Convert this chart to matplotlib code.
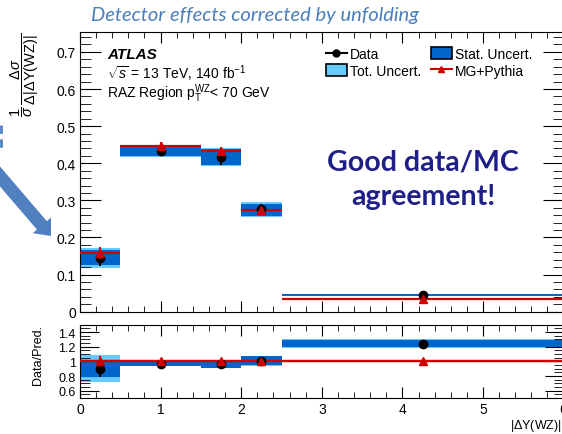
import numpy as np
import matplotlib
matplotlib.use("Agg")
import matplotlib.pyplot as plt
from matplotlib.patches import Patch, Polygon
from matplotlib.lines import Line2D
from matplotlib.ticker import MultipleLocator

plt.rcParams['font.family'] = ['Liberation Sans', 'DejaVu Sans']
plt.rcParams['mathtext.fontset'] = 'custom'
plt.rcParams['mathtext.rm'] = 'Liberation Sans'
plt.rcParams['mathtext.it'] = 'Liberation Sans:italic'
plt.rcParams['mathtext.bf'] = 'Liberation Sans:bold'

# bins of |dY(WZ)|
edges = np.array([0, 0.5, 1.5, 2.0, 2.5, 6.0])
centers = np.array([0.25, 1.0, 1.75, 2.25, 4.25])

# normalised cross section
data = [0.145, 0.432, 0.416, 0.276, 0.0445]
data_err = [0.022, 0.012, 0.02, 0.015, 0.003]
stat_lo = [0.127, 0.420, 0.395, 0.257, 0.0425]
stat_hi = [0.167, 0.447, 0.438, 0.291, 0.0465]
tot_lo = [0.118, 0.417, 0.392, 0.254, 0.0415]
tot_hi = [0.171, 0.450, 0.442, 0.295, 0.0475]
mc = [0.158, 0.446, 0.432, 0.273, 0.035]
mc_err = [0.015, 0.01, 0.012, 0.008, 0.002]

# ratio panel
ratio = [0.90, 0.97, 0.965, 1.01, 1.24]
ratio_err = [0.12, 0.02, 0.04, 0.03, 0.01]
rstat_lo = [0.79, 0.94, 0.91, 0.947, 1.19]
rstat_hi = [1.01, 1.00, 1.013, 1.07, 1.29]
rtot_lo = [0.725, 0.935, 0.905, 0.94, 1.18]
rtot_hi = [1.09, 1.005, 1.02, 1.075, 1.30]
rmc = [1.0, 1.0, 1.0, 1.0, 1.0]
rmc_err = [0.07, 0.025, 0.03, 0.03, 0.005]

c_stat = '#0066cc'
c_tot = '#66ccff'
c_red = '#d00000'

W, H = 562, 435
fig = plt.figure(figsize=(W / 100, H / 100), dpi=100)

def box(l, r, t, b):
    return [l / W, 1 - b / H, (r - l) / W, (b - t) / H]

ax = fig.add_axes(box(80, 563.6, 32.5, 312.7))
axr = fig.add_axes(box(80, 563.6, 325.7, 399))

widths = np.diff(edges)

def draw(a, lo_t, hi_t, lo_s, hi_s, mid, err, mcv, mce):
    a.bar(edges[:-1], np.array(hi_t) - np.array(lo_t), bottom=lo_t, width=widths,
          align='edge', color=c_tot, linewidth=0, zorder=1)
    a.bar(edges[:-1], np.array(hi_s) - np.array(lo_s), bottom=lo_s, width=widths,
          align='edge', color=c_stat, linewidth=0, zorder=2)
    a.hlines(mcv, edges[:-1], edges[1:], color=c_red, lw=1.6, zorder=3)
    a.errorbar(centers, mid, yerr=err, fmt='o', color='black', ms=6,
               elinewidth=1.5, capsize=0, zorder=4)
    a.errorbar(centers, mcv, yerr=mce, fmt='^', color=c_red, ms=6,
               elinewidth=1.5, capsize=0, zorder=5)

draw(ax, tot_lo, tot_hi, stat_lo, stat_hi, data, data_err, mc, mc_err)
draw(axr, rtot_lo, rtot_hi, rstat_lo, rstat_hi, ratio, ratio_err, rmc, rmc_err)
axr.axhline(1.0, color=c_red, lw=1.6, zorder=3)

ax.set_xlim(0, 6)
ax.set_ylim(0, 0.755)
axr.set_xlim(0, 6)
axr.set_ylim(0.5, 1.5)

for a in (ax, axr):
    a.tick_params(which='both', direction='in', top=True, right=True,
                  labelsize=10, pad=3)
    a.xaxis.set_major_locator(MultipleLocator(1))
    a.xaxis.set_minor_locator(MultipleLocator(0.2))
    for s in a.spines.values():
        s.set_linewidth(0.8)

ax.yaxis.set_major_locator(MultipleLocator(0.1))
ax.yaxis.set_minor_locator(MultipleLocator(0.02))
ax.tick_params(axis='y', which='major', length=15)
ax.tick_params(axis='y', which='minor', length=8)
ax.tick_params(axis='x', which='major', length=8)
ax.tick_params(axis='x', which='minor', length=4)
ax.set_xticklabels([])
ax.set_yticks([0, 0.1, 0.2, 0.3, 0.4, 0.5, 0.6, 0.7])
ax.set_yticklabels(['0', '0.1', '0.2', '0.3', '0.4', '0.5', '0.6', '0.7'])

axr.yaxis.set_major_locator(MultipleLocator(0.2))
axr.yaxis.set_minor_locator(MultipleLocator(0.05))
axr.set_yticks([0.6, 0.8, 1.0, 1.2, 1.4])
axr.set_yticklabels(['0.6', '0.8', '1', '1.2', '1.4'], fontsize=9)
axr.tick_params(axis='y', which='major', length=14)
axr.tick_params(axis='y', which='minor', length=7)
axr.tick_params(axis='x', which='major', length=8, labelsize=10)
axr.tick_params(axis='x', which='minor', length=4)

# axis titles
fig.text(25 / W, 1 - 33 / H,
         r'$\dfrac{1}{\sigma}\,\dfrac{\Delta\sigma}{\Delta|\Delta \mathrm{Y(WZ)}|}$',
         rotation=90, ha='center', va='top', fontsize=10.5)
fig.text(38 / W, 1 - 355 / H, 'Data/Pred.', rotation=90, ha='center',
         va='center', fontsize=9)
fig.text(562 / W, 1 - 426 / H, r'|$\Delta$Y(WZ)|', ha='right', va='center',
         fontsize=9)

# ATLAS labels
ax.text(0.056, 0.918, 'ATLAS', transform=ax.transAxes, fontsize=11,
        fontweight='bold', style='italic', va='center')
ax.text(0.056, 0.852, r'$\sqrt{s}$ = 13 TeV, 140 fb$^{-1}$',
        transform=ax.transAxes, fontsize=10, va='center')
ax.text(0.056, 0.78, r'RAZ Region p$_\mathrm{T}^\mathrm{WZ}$< 70 GeV',
        transform=ax.transAxes, fontsize=10, va='center')

handles = [
    Line2D([], [], color='black', marker='o', ms=5, lw=1.5),
    Patch(facecolor=c_tot, edgecolor='black', lw=1.2),
    Patch(facecolor=c_stat, edgecolor='black', lw=1.2),
    Line2D([], [], color=c_red, marker='^', ms=5, lw=1.5),
]
labels = ['Data', 'Tot. Uncert.', 'Stat. Uncert.', 'MG+Pythia']
ax.legend(handles, labels, ncol=2, loc='upper left',
          bbox_to_anchor=(0.508, 0.945), frameon=False, fontsize=10,
          handlelength=1.5, handleheight=0.9, handletextpad=0.25,
          columnspacing=0.7, labelspacing=0.2, borderpad=0, borderaxespad=0)

# slide annotations
fig.text(255 / W, 1 - 15 / H, 'Detector effects corrected by unfolding',
         ha='center', va='center', fontsize=14.5, style='italic',
         color='#4a7ebb', family=['Lato', 'DejaVu Sans'])
fig.text(423 / W, 1 - 180 / H, 'Good data/MC\nagreement!', ha='center',
         va='center', fontsize=20.5, fontweight='bold', color='#1f1f88',
         family=['Lato', 'DejaVu Sans'], linespacing=1.4)

# blue arrow pointing at first bin (pixel coordinates)
tip = np.array([51.0, 237.0])
start = np.array([-15.0, 160.0])
d = (tip - start) / np.linalg.norm(tip - start)
n = np.array([-d[1], d[0]])
head_len, head_w, shaft_w = 14.0, 12.0, 6.5
base = tip - d * head_len
pts = [start + n * shaft_w, base + n * shaft_w, base + n * head_w, tip,
       base - n * head_w, base - n * shaft_w, start - n * shaft_w]
pts = [(p[0] / W, 1 - p[1] / H) for p in pts]
fig.add_artist(Polygon(pts, closed=True, transform=fig.transFigure,
                       facecolor='#5080c0', edgecolor='none'))
fig.add_artist(Line2D([1 / W, 1 / W], [1 - 126 / H, 1 - 152 / H],
                      transform=fig.transFigure, color='#5080c0', lw=2,
                      ls=(0, (3, 2))))

fig.savefig('out.png', dpi=100)
